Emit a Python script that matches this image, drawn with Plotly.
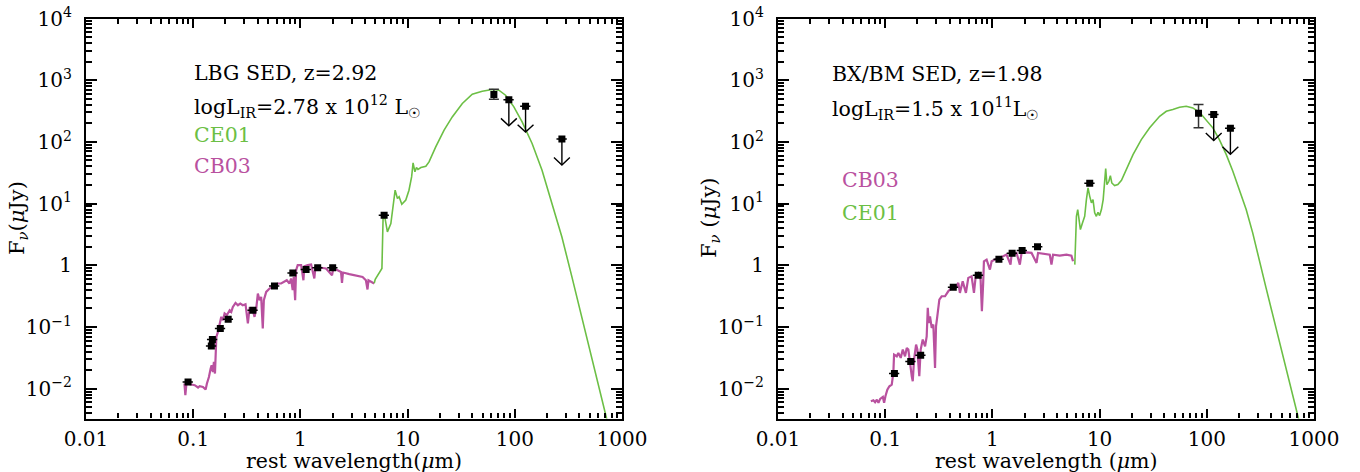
import plotly.graph_objects as go

# ---------------- data: LBG panel (left) ----------------
lbg_cb03_wl = [0.0828, 0.0845, 0.0865, 0.0961, 0.1033, 0.111, 0.1148, 0.1233, 0.1306, 0.1343, 0.1402, 0.1455,
               0.1486, 0.1528, 0.156, 0.1596, 0.1618, 0.1644, 0.1702, 0.1766, 0.1828, 0.1892, 0.1963, 0.206,
               0.2188, 0.2265, 0.2344, 0.2483, 0.2612, 0.2748, 0.2904, 0.3076, 0.3162, 0.3236, 0.3357, 0.3597,
               0.3733, 0.3873, 0.4009, 0.4159, 0.4305, 0.4457, 0.456, 0.4797, 0.5152, 0.5728, 0.6152, 0.6607,
               0.7096, 0.7464, 0.7907, 0.8185, 0.8472, 0.867, 0.8933, 0.912, 0.9441, 1.016, 1.067, 1.089,
               1.169, 1.259, 1.349, 1.38, 1.503, 1.734, 1.972, 2.028, 2.223, 2.393, 2.443, 2.496, 2.858,
               3.296, 3.802, 4.083, 4.227, 4.315, 4.645, 4.876]
lbg_cb03_f = [0.01213, 0.00785, 0.01213, 0.0117, 0.0114, 0.01045, 0.01099, 0.0107, 0.0097, 0.01213, 0.0155, 0.0212,
              0.0240, 0.0187, 0.0272, 0.0176, 0.0421, 0.0692, 0.0834, 0.107, 0.146, 0.129, 0.1656, 0.1552,
              0.187, 0.176, 0.212, 0.246, 0.2255, 0.2404, 0.2255, 0.234, 0.1656, 0.114, 0.1995, 0.187,
              0.146, 0.1995, 0.349, 0.2717, 0.3076, 0.0946, 0.2717, 0.3707, 0.4207, 0.4753, 0.507, 0.507,
              0.5383, 0.5728, 0.507, 0.6109, 0.3945, 0.6486, 0.2717, 0.8337, 1.005, 1.005, 0.5728, 0.966,
              1.005, 1.03, 0.6109, 0.942, 0.921, 0.887, 0.6918, 0.887, 0.8337, 0.7816, 0.5188, 0.7638, 0.7178,
              0.6918, 0.6486, 0.5728, 0.4055, 0.5728, 0.5383, 0.507]
lbg_ce01_wl = [4.88, 4.99, 5.76, 5.92, 6.08, 6.48, 6.98, 7.49, 7.65, 8.04, 8.33, 8.83, 9.62, 10.3, 10.9, 11.25,
               11.7, 12.1, 12.5, 13.3, 14.8, 15.85, 18.3, 21.9, 26.1, 32.4, 40.1, 49.7, 61.5, 71, 82, 98, 117,
               145, 179.5, 222, 275, 341, 723, 748]
lbg_ce01_f = [0.513, 0.595, 0.887, 6.9, 6.56, 3.48, 4.76, 13.7, 16.5, 12.1, 12.9, 9.77, 11.4, 16.5, 27.1, 45.7,
              32.7, 38.5, 35.7, 38.5, 40.4, 47.4, 83, 155, 254, 419, 593, 663, 707, 689, 571, 369, 211,
              94.2, 34.8, 10.0, 2.88, 0.649, 0.00349, 0.00247]
lbg_phot_wl = [0.0895, 0.1476, 0.151, 0.179, 0.212, 0.36, 0.573, 0.85, 1.13, 1.45, 2.0, 6.04]
lbg_phot_f = [0.0129, 0.049, 0.063, 0.0946, 0.134, 0.187, 0.463, 0.753, 0.855, 0.91, 0.91, 6.5]
lbg_fir_wl = [63.8]
lbg_fir_f = [586]
lbg_fir_err_plus = [128]
lbg_fir_err_minus = [94]
lbg_ul_wl = [88, 126, 275]
lbg_ul_f = [480, 379, 111]

# ---------------- data: BX/BM panel (right) ----------------
bx_cb03_wl = [0.0735, 0.0776, 0.0805, 0.0836, 0.0865, 0.0898, 0.0951, 0.0977, 0.1005, 0.1047, 0.1094, 0.1151,
              0.1191, 0.121, 0.1282, 0.1327, 0.1396, 0.1459, 0.1531, 0.1589, 0.1644, 0.1706, 0.177, 0.1807,
              0.1858, 0.1941, 0.1995, 0.208, 0.2143, 0.2239, 0.2355, 0.2438, 0.2495, 0.2547, 0.2618, 0.2716,
              0.2812, 0.2917, 0.2979, 0.3062, 0.3199, 0.3365, 0.3614, 0.3873, 0.4169, 0.4477, 0.4808, 0.4977,
              0.5284, 0.5662, 0.5957, 0.6397, 0.673, 0.7015, 0.738, 0.7762, 0.798, 0.8204, 0.8337, 0.8831,
              0.9484, 0.984, 1.054, 1.132, 1.262, 1.355, 1.476, 1.51, 1.679, 1.803, 1.871, 2.08, 2.317, 2.582,
              2.667, 2.972, 3.428, 3.556, 3.681, 4.246, 4.909, 5.458, 5.649]
bx_cb03_f = [0.00625, 0.00649, 0.00603, 0.00665, 0.00589, 0.00684, 0.00736, 0.00589, 0.00753, 0.00966, 0.01094,
             0.01164, 0.01803, 0.0357, 0.0335, 0.038, 0.0316, 0.0431, 0.0335, 0.0458, 0.0431, 0.0231, 0.0159,
             0.0132, 0.0296, 0.0519, 0.0431, 0.0159, 0.0431, 0.0625, 0.0486, 0.0706, 0.2042, 0.1164, 0.149,
             0.0966, 0.1094, 0.0217, 0.1026, 0.149, 0.278, 0.3148, 0.3148, 0.3793, 0.4305, 0.415, 0.5188,
             0.3573, 0.5508, 0.3573, 0.6252, 0.6637, 0.3573, 0.7063, 0.7534, 0.5861, 0.1795, 0.5188, 1.161,
             1.236, 0.8511, 1.161, 1.236, 1.318, 1.4, 1.489, 1.026, 1.489, 1.589, 1.026, 1.589, 1.625, 1.589,
             1.094, 1.589, 1.549, 1.489, 1.026, 1.489, 1.436, 1.489, 1.436, 1.161]
bx_ce01_wl = [5.87, 5.96, 6.08, 6.25, 6.43, 6.62, 6.92, 7.26, 7.53, 7.8, 8.09, 8.39, 8.68, 9.0, 9.33, 9.66, 10.0,
              10.4, 10.8, 11.15, 11.4, 11.7, 12.2, 12.6, 13.0, 13.8, 14.8, 16.0, 17.8, 20.5, 24.5, 29.3, 36.3,
              41.9, 48.2, 55.7, 64.3, 74.1, 85.5, 98.6, 113.8, 131, 152, 175, 201, 233, 268, 310, 357, 729]
bx_ce01_f = [1.026, 2.31, 6.22, 8.0, 4.86, 3.79, 4.86, 6.22, 11.6, 18.0, 13.1, 10.3, 11.6, 7.07, 6.22, 7.23, 6.39,
             8.0, 11.6, 21.6, 36.9, 20.3, 23.0, 28.4, 21.6, 19.6, 20.3, 23.9, 35.6, 62.2, 109, 169, 260,
             313, 334, 364, 378, 356, 302, 230, 169, 109, 62.2, 33.4, 16.9, 8.0, 3.35, 1.24, 0.43, 0.00293]
bx_phot_wl = [0.1219, 0.173, 0.2143, 0.4315, 0.738, 1.15, 1.528, 1.894, 2.635, 8.09]
bx_phot_f = [0.0176, 0.0275, 0.0348, 0.44, 0.689, 1.25, 1.566, 1.73, 1.99, 21.3]
bx_fir_wl = [83.7]
bx_fir_f = [291]
bx_fir_err_plus = [111]
bx_fir_err_minus = [122]
bx_ul_wl = [116, 166]
bx_ul_f = [277, 166]

x_tickvals = [0.01, 0.1, 1, 10, 100, 1000]
x_ticktext = ["0.01", "0.1", "1", "10", "100", "1000"]
y_tickvals = [0.01, 0.1, 1, 10, 100, 1000, 10000]
y_ticktext = ["10<sup>−2</sup>", "10<sup>−1</sup>", "1", "10<sup>1</sup>", "10<sup>2</sup>",
              "10<sup>3</sup>", "10<sup>4</sup>"]
minor_digits = [2, 3, 4, 5, 6, 7, 8, 9]

# ---------------- style ----------------
GREEN = "#6cbf45"
MAGENTA = "#b9519f"
FONT = "DejaVu Serif"
W, H = 1360, 472
XRANGE = [-2, 3]
YRANGE = [-2.483, 4]

# arrow geometry (in decades)
SHAFT = 0.42
HEAD_DX = 0.074
HEAD_DY = 0.12


def arrows(wls, fs):
    xs, ys = [], []
    for w, f in zip(wls, fs):
        tip = f * 10 ** (-SHAFT)
        xs += [w, w, None, w * 10 ** (-HEAD_DX), w, w * 10 ** HEAD_DX, None]
        ys += [f, tip, None, tip * 10 ** HEAD_DY, tip, tip * 10 ** HEAD_DY, None]
    return xs, ys


def minor_vals(decades):
    return [d * 10.0 ** k for k in decades for d in minor_digits]


fig = go.Figure()


def add_panel(xa, ya, cb_wl, cb_f, ce_wl, ce_f, ph_wl, ph_f, fir_wl, fir_f, ep, em, ul_wl, ul_f):
    fig.add_trace(go.Scatter(x=cb_wl, y=cb_f, mode="lines", line=dict(color=MAGENTA, width=2.2),
                             xaxis=xa, yaxis=ya, showlegend=False))
    fig.add_trace(go.Scatter(x=ce_wl, y=ce_f, mode="lines", line=dict(color=GREEN, width=1.6),
                             xaxis=xa, yaxis=ya, showlegend=False))
    fig.add_trace(go.Scatter(x=ph_wl, y=ph_f, mode="markers",
                             marker=dict(symbol="square", size=7, color="black"),
                             error_x=dict(type="percent", value=11, color="black", thickness=1.5, width=0),
                             xaxis=xa, yaxis=ya, showlegend=False))
    fig.add_trace(go.Scatter(x=fir_wl, y=fir_f, mode="markers",
                             marker=dict(symbol="square", size=7, color="black"),
                             error_y=dict(type="data", symmetric=False, array=ep, arrayminus=em,
                                          color="#333333", thickness=1.5, width=5),
                             xaxis=xa, yaxis=ya, showlegend=False))
    ax_, ay_ = arrows(ul_wl, ul_f)
    fig.add_trace(go.Scatter(x=ax_, y=ay_, mode="lines", line=dict(color="black", width=1.4),
                             xaxis=xa, yaxis=ya, showlegend=False))
    fig.add_trace(go.Scatter(x=ul_wl, y=ul_f, mode="markers",
                             marker=dict(symbol="square", size=7, color="black"),
                             error_x=dict(type="percent", value=11, color="black", thickness=1.5, width=0),
                             xaxis=xa, yaxis=ya, showlegend=False))


add_panel("x", "y", lbg_cb03_wl, lbg_cb03_f, lbg_ce01_wl, lbg_ce01_f, lbg_phot_wl, lbg_phot_f,
          lbg_fir_wl, lbg_fir_f, lbg_fir_err_plus, lbg_fir_err_minus, lbg_ul_wl, lbg_ul_f)
add_panel("x2", "y2", bx_cb03_wl, bx_cb03_f, bx_ce01_wl, bx_ce01_f, bx_phot_wl, bx_phot_f,
          bx_fir_wl, bx_fir_f, bx_fir_err_plus, bx_fir_err_minus, bx_ul_wl, bx_ul_f)


def xaxis(domain, anchor):
    return dict(type="log", domain=domain, anchor=anchor, range=XRANGE,
                showline=True, linecolor="black", linewidth=2.2, mirror="allticks",
                ticks="inside", ticklen=9, tickwidth=1.8, tickcolor="black",
                tickmode="array", tickvals=x_tickvals, ticktext=x_ticktext,
                minor=dict(ticks="inside", ticklen=5, tickwidth=1.5, tickcolor="black",
                           tickmode="array", tickvals=minor_vals(range(-2, 3)), showgrid=False),
                showgrid=False, zeroline=False, automargin=False, ticklabelstandoff=1,
                tickfont=dict(family=FONT, size=20, color="black"))


def yaxis(domain, anchor):
    return dict(type="log", domain=domain, anchor=anchor, range=YRANGE,
                showline=True, linecolor="black", linewidth=2.2, mirror="allticks",
                ticks="inside", ticklen=11, tickwidth=1.8, tickcolor="black",
                tickmode="array", tickvals=y_tickvals, ticktext=y_ticktext,
                minor=dict(ticks="inside", ticklen=6, tickwidth=1.5, tickcolor="black",
                           tickmode="array", tickvals=minor_vals(range(-3, 4)), showgrid=False),
                showgrid=False, zeroline=False, automargin=False, ticklabelstandoff=8,
                tickfont=dict(family=FONT, size=20, color="black"))


ydom = [(H - 418.5) / H, (H - 18.5) / H]
fig.update_layout(
    width=W, height=H, margin=dict(l=0, r=0, t=0, b=0),
    paper_bgcolor="white", plot_bgcolor="white",
    xaxis=xaxis([86 / W, 622 / W], "y"),
    yaxis=yaxis(ydom, "x"),
    xaxis2=xaxis([778 / W, 1314 / W], "y2"),
    yaxis2=yaxis(ydom, "x2"),
    font=dict(family=FONT, color="black"),
)


def label(text, px, py, color="black", size=20.5, xanchor="left", angle=0):
    fig.add_annotation(text=text, xref="paper", yref="paper", x=px / W, y=1 - py / H,
                       xanchor=xanchor, yanchor="middle", showarrow=False, textangle=angle,
                       font=dict(family=FONT, size=size, color=color))


label("LBG SED, z=2.92", 192, 73)
label("logL<sub>IR</sub>=2.78 x 10<sup>12</sup> L<sub>☉</sub>", 192, 106)
label("CE01", 192, 135, GREEN)
label("CB03", 192, 166, MAGENTA)

label("BX/BM SED, z=1.98", 830, 74)
label("logL<sub>IR</sub>=1.5 x 10<sup>11</sup>L<sub>☉</sub>", 830, 108)
label("CB03", 840, 180, MAGENTA)
label("CE01", 840, 213, GREEN)

label("rest wavelength(<i>μ</i>m)", 354, 461, size=20.5, xanchor="center")
label("rest wavelength (<i>μ</i>m)", 1046, 461, size=20.5, xanchor="center")
label("F<sub><i>ν</i></sub>(<i>μ</i>Jy)", 18, 218, size=21, xanchor="center", angle=-90)
label("F<sub><i>ν</i></sub> (<i>μ</i>Jy)", 710, 218, size=21, xanchor="center", angle=-90)

fig.write_html("out.html")
